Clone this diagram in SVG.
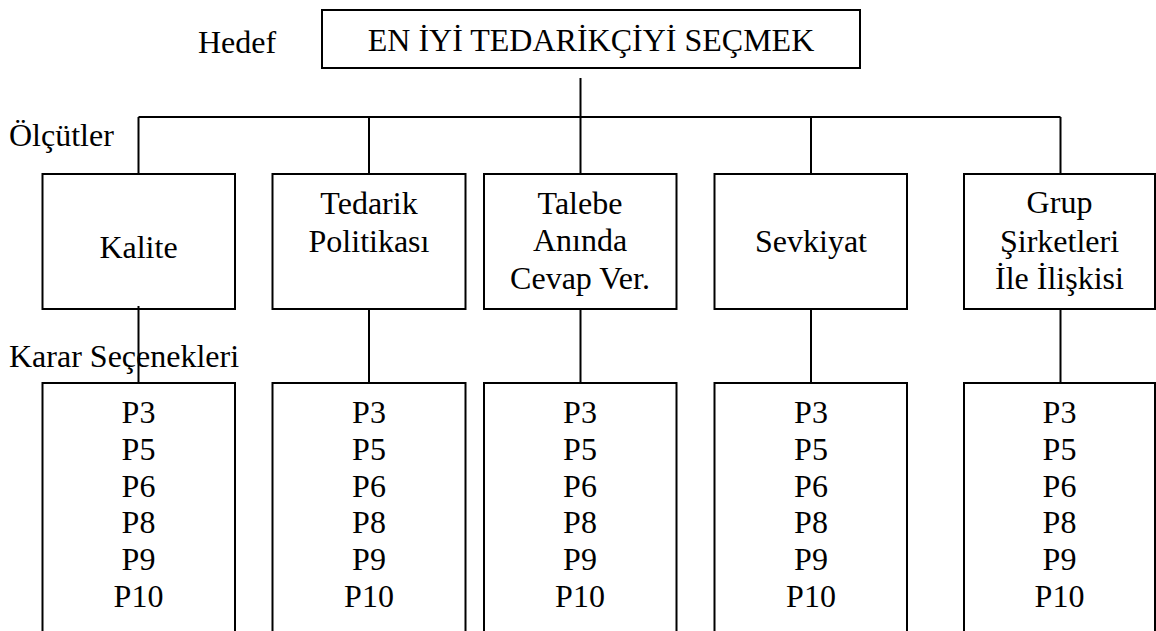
<svg xmlns="http://www.w3.org/2000/svg" width="1156" height="631" viewBox="0 0 1156 631">
<style>
.box{fill:#fff;stroke:#000;stroke-width:2}
.ln{fill:none;stroke:#000;stroke-width:2}
.t{font-size:32px;fill:#000}
.c{text-anchor:middle}
</style>
<rect width="1156" height="631" fill="#fff"/>
<g font-family="Liberation Serif, Times New Roman, serif">
<g id="labels">
<text class="t" x="198" y="53">Hedef</text>
<text class="t" x="9" y="146">Ölçütler</text>
</g>
<g id="connectors">
<path class="ln" d="M580.5 78V117M138.5 117H1060.5M138.5 117V174M369 117V174M580.5 117V174M811 117V174M1060.5 117V174"/>
<path class="ln" d="M369 306V383M580.5 306V383M811 306V383M1060.5 306V383"/>
</g>
<g id="goal">
<rect class="box" x="322" y="10" width="538" height="58"/>
<text class="t c" x="591" y="51">EN İYİ TEDARİKÇİYİ SEÇMEK</text>
</g>
<g id="c1"><rect class="box" x="42.5" y="174" width="192.5" height="135"/><text class="t c" x="138.5" y="258">Kalite</text></g>
<g id="c2"><rect class="box" x="272.5" y="174" width="193" height="135"/><text class="t c" x="369" y="214">Tedarik</text><text class="t c" x="369" y="252">Politikası</text></g>
<g id="c3"><rect class="box" x="484" y="174" width="192.5" height="135"/><text class="t c" x="580" y="214">Talebe</text><text class="t c" x="580" y="251">Anında</text><text class="t c" x="580" y="289">Cevap Ver.</text></g>
<g id="c4"><rect class="box" x="714.5" y="174" width="192.5" height="135"/><text class="t c" x="811" y="252">Sevkiyat</text></g>
<g id="c5"><rect class="box" x="964" y="174" width="191" height="135"/><text class="t c" x="1059.5" y="213">Grup</text><text class="t c" x="1059.5" y="252">Şirketleri</text><text class="t c" x="1059.5" y="289">İle İlişkisi</text></g>
<g id="karar"><text class="t" x="9" y="367">Karar Seçenekleri</text></g>
<g id="a1"><rect class="box" x="42.5" y="383" width="192.5" height="260"/><text class="t c"><tspan x="138.5" y="423">P3</tspan><tspan x="138.5" y="460">P5</tspan><tspan x="138.5" y="497">P6</tspan><tspan x="138.5" y="533">P8</tspan><tspan x="138.5" y="570">P9</tspan><tspan x="138.5" y="607">P10</tspan></text></g>
<g id="a2"><rect class="box" x="272.5" y="383" width="193" height="260"/><text class="t c"><tspan x="369" y="423">P3</tspan><tspan x="369" y="460">P5</tspan><tspan x="369" y="497">P6</tspan><tspan x="369" y="533">P8</tspan><tspan x="369" y="570">P9</tspan><tspan x="369" y="607">P10</tspan></text></g>
<g id="a3"><rect class="box" x="484" y="383" width="192.5" height="260"/><text class="t c"><tspan x="580" y="423">P3</tspan><tspan x="580" y="460">P5</tspan><tspan x="580" y="497">P6</tspan><tspan x="580" y="533">P8</tspan><tspan x="580" y="570">P9</tspan><tspan x="580" y="607">P10</tspan></text></g>
<g id="a4"><rect class="box" x="714.5" y="383" width="192.5" height="260"/><text class="t c"><tspan x="811" y="423">P3</tspan><tspan x="811" y="460">P5</tspan><tspan x="811" y="497">P6</tspan><tspan x="811" y="533">P8</tspan><tspan x="811" y="570">P9</tspan><tspan x="811" y="607">P10</tspan></text></g>
<g id="a5"><rect class="box" x="964" y="383" width="191" height="260"/><text class="t c"><tspan x="1059.5" y="423">P3</tspan><tspan x="1059.5" y="460">P5</tspan><tspan x="1059.5" y="497">P6</tspan><tspan x="1059.5" y="533">P8</tspan><tspan x="1059.5" y="570">P9</tspan><tspan x="1059.5" y="607">P10</tspan></text></g>
<g id="kalite-link"><path class="ln" d="M138.5 306V383"/></g>
</g>
</svg>
